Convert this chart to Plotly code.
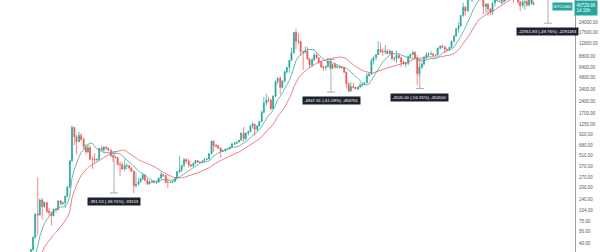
import numpy as np
import pandas as pd
import plotly.graph_objects as go

# ---------------- data (semi-monthly candles, BTCUSD) ----------------
first_open = 5.3
closes = [
    # 2012
    6.5, 5.5, 6.0, 4.9, 4.9, 4.9, 4.9, 5.0, 5.0, 5.1, 5.6, 6.6, 7.6, 9.0, 11.0, 10.5, 11.0, 12.4, 11.8, 11.2, 10.9, 12.4, 13.3, 13.4,
    # 2013
    14.2, 20.0, 24.5, 33.0, 47.0, 92.0, 90.0, 139.0, 115.0, 129.0, 100.0, 97.0, 88.0, 106.0, 105.0, 135.0, 125.0, 128.0, 155.0, 200.0, 430.0, 1130.0, 870.0, 750.0,
    # 2014
    900, 800, 650, 560, 630, 450, 450, 445, 450, 620, 590, 640, 620, 585, 500, 480, 470, 385, 385, 340, 375, 375, 350, 320,
    # 2015
    210, 218, 235, 255, 285, 245, 220, 235, 237, 230, 232, 262, 290, 284, 230, 230, 230, 237, 260, 315, 330, 378, 445, 430,
    # 2016
    385, 370, 400, 435, 415, 415, 430, 450, 455, 530, 760, 670, 660, 625, 570, 575, 605, 608, 640, 700, 710, 745, 780, 960,
    # 2017
    820, 965, 1000, 1190, 1250, 1070, 1180, 1350, 1750, 2300, 2500, 2480, 1950, 2800, 4300, 4700, 3600, 4350, 5650, 6450, 7900, 9900, 17700, 13800,
    # 2018
    13600, 10200, 10000, 10300, 8200, 6900, 8000, 9250, 8500, 7500, 6500, 6400, 6600, 7700, 6300, 7000, 6500, 6600, 6450, 6350, 5600, 4000, 3250, 3700,
    # 2019
    3600, 3450, 3650, 3850, 3950, 4100, 5050, 5300, 7800, 8550, 9300, 10800, 10200, 10100, 10300, 9600, 10300, 8300, 8350, 9150, 8500, 7500, 7100, 7200,
    # 2020
    8800, 9350, 9900, 8550, 5400, 6400, 7100, 8650, 9300, 9450, 9450, 9150, 9200, 11300, 11900, 11650, 10900, 10800, 11500, 13800, 16000, 19700, 21300, 29000,
    # 2021
    36800, 33100, 47900, 45200, 56000, 58900, 63000, 57700, 46400, 37300, 40200, 35000, 31800, 41500, 47000, 47100, 48100, 43800, 61600, 61300, 64000, 57000, 48900, 46300,
    # 2022
    43100, 38500, 42500, 43200, 39300, 45500, 40400, 40729.96,
]
highs = [
    7.0, 6.9, 6.3, 6.2, 5.2, 5.3, 5.0, 5.2, 5.1, 5.2, 5.8, 6.7, 7.8, 9.3, 11.4, 15.4, 11.3, 12.6, 12.9, 12.0, 11.3, 12.6, 13.6, 13.6,
    14.4, 20.5, 25.5, 33.5, 48.0, 95.0, 266.0, 145.0, 147.0, 133.0, 130.0, 110.0, 98.0, 108.0, 110.0, 137.0, 140.0, 132.0, 156.0, 210.0, 440.0, 1200.0, 1160.0, 920.0,
    1000, 960, 850, 700, 700, 680, 490, 535, 460, 625, 670, 660, 655, 630, 600, 520, 500, 480, 425, 415, 460, 400, 385, 360,
    325, 310, 265, 265, 300, 295, 260, 245, 245, 245, 238, 265, 315, 295, 285, 260, 240, 245, 265, 320, 500, 380, 470, 465,
    460, 395, 410, 445, 440, 420, 432, 465, 460, 535, 780, 780, 705, 680, 630, 590, 610, 612, 645, 735, 742, 750, 790, 975,
    1150, 980, 1030, 1200, 1330, 1250, 1210, 1355, 1850, 2760, 2980, 2760, 2600, 2880, 4400, 4800, 4980, 4400, 5850, 6480, 7900, 11400, 17800, 19800,
    17200, 14000, 10300, 11800, 11700, 8500, 8500, 9750, 9900, 8600, 7800, 6800, 6800, 8500, 8100, 7100, 7400, 6800, 6700, 6550, 6500, 5700, 4200, 4200,
    4100, 3700, 3700, 4200, 4000, 4150, 5450, 5600, 8400, 8900, 9400, 13800, 13200, 11100, 12300, 10900, 10900, 10400, 8800, 10500, 9500, 8750, 7900, 7500,
    8900, 9600, 10500, 10300, 9200, 6900, 7450, 8900, 10000, 9900, 10400, 9800, 9450, 11400, 12100, 12450, 12050, 11100, 11700, 13900, 16300, 19900, 23800, 29300,
    42000, 38000, 49700, 58300, 61800, 61200, 64800, 63800, 59500, 46800, 41300, 41300, 36000, 42600, 48100, 50500, 52900, 48500, 62900, 67000, 69000, 66000, 59000, 52000,
    47900, 43500, 45800, 44900, 45400, 48200, 47000, 42900,
]
lows = [
    5.2, 5.4, 5.3, 4.4, 4.7, 4.8, 4.8, 4.9, 4.9, 5.0, 5.1, 5.6, 6.5, 7.6, 8.9, 7.5, 10.0, 11.0, 11.6, 10.6, 10.2, 10.9, 12.3, 13.0,
    13.3, 14.0, 19.0, 24.0, 31.5, 46.0, 50.0, 88.0, 79.0, 110.0, 95.0, 88.0, 66.0, 86.0, 96.0, 102.0, 118.0, 120.0, 110.0, 152.0, 195.0, 420.0, 680.0, 520.0,
    740, 770, 600, 520, 540, 440, 340, 410, 420, 445, 570, 550, 600, 575, 480, 420, 465, 380, 275, 330, 320, 340, 340, 310,
    170, 200, 212, 230, 250, 240, 215, 218, 225, 225, 220, 230, 255, 270, 230, 195, 225, 225, 235, 260, 300, 310, 360, 400,
    355, 360, 365, 395, 405, 405, 410, 425, 445, 450, 525, 555, 635, 600, 470, 565, 570, 600, 605, 635, 680, 700, 735, 775,
    750, 780, 900, 990, 1100, 890, 1020, 1160, 1340, 1750, 2100, 2350, 1850, 1950, 2700, 3950, 2970, 3500, 4150, 5400, 5500, 7900, 9500, 10900,
    12700, 9000, 6000, 9700, 8100, 6400, 6500, 7800, 8300, 7100, 6400, 5800, 5900, 6500, 6000, 6200, 6150, 6200, 6200, 6250, 5500, 3500, 3150, 3200,
    3500, 3400, 3350, 3600, 3700, 3850, 4100, 4950, 5250, 7000, 7800, 9300, 9700, 9000, 9400, 9350, 9550, 7800, 7700, 7300, 8400, 6500, 7000, 6450,
    6850, 8500, 9100, 8400, 3850, 5000, 6200, 6800, 8100, 8800, 9250, 8900, 9050, 9100, 10700, 11100, 9850, 10250, 10400, 11300, 13200, 15900, 17600, 21100,
    28000, 29000, 32300, 44900, 43000, 50500, 56000, 47000, 45000, 30000, 31000, 28800, 29300, 29300, 37400, 43900, 42800, 39600, 43300, 59300, 59500, 53500, 42000, 45500,
    39600, 33000, 36300, 34300, 37200, 37600, 39200, 38600,
]

# price-range measurements drawn on the chart
measure_dates = ["2014-08-22", "2018-08-05", "2020-03-18", "2022-07-19"]
measure_from = [561.71, 8100.24, 7994.68, 46044.0]
measure_to = [170.18, 3152.63, 3489.68, 23132.17]
measure_text = [
    "-391.53 (-69.70%) -39153",
    "-4947.61 (-61.08%) -494761",
    "-4505.00 (-56.35%) -450500",
    "-22911.83 (-49.76%) -2291183",
]

tick_vals = [40, 56, 75, 104, 140, 200, 270, 370, 510, 680, 920, 1250, 1700,
             2400, 3400, 4800, 6400, 8800, 12800, 17600, 24000]
tick_text = [f"{v:.2f}" for v in tick_vals]

symbol = "BTCUSD"
last_price_text = "40729.96"
countdown = "1d 10h"

# ---------------- styling ----------------
UP = "#26a69a"
DOWN = "#ef5350"
MA_FAST_COLOR = "#3fa9a0"
MA_SLOW_COLOR = "#e5636b"
LABEL_BG = "#1e222d"
FONT = "Liberation Sans"

dates = pd.date_range("2012-01-01", periods=len(closes), freq="SMS")
opens = [first_open] + closes[:-1]
s = pd.Series(closes, index=dates)
ma_fast = s.rolling(10).mean()
ma_slow = s.rolling(24).mean()

fig = go.Figure()
fig.add_trace(go.Scatter(x=dates, y=ma_slow, mode="lines",
                         line=dict(color=MA_SLOW_COLOR, width=0.8), hoverinfo="skip"))
fig.add_trace(go.Scatter(x=dates, y=ma_fast, mode="lines",
                         line=dict(color=MA_FAST_COLOR, width=0.8), hoverinfo="skip"))
fig.add_trace(go.Candlestick(
    x=dates, open=opens, high=highs, low=lows, close=closes,
    increasing=dict(line=dict(color=UP, width=0.7), fillcolor=UP),
    decreasing=dict(line=dict(color=DOWN, width=0.7), fillcolor=DOWN),
    whiskerwidth=0,
))

# measure lines
for d, a, b, t in zip(measure_dates, measure_from, measure_to, measure_text):
    fig.add_trace(go.Scatter(x=[d, d], y=[a, b], mode="lines",
                             line=dict(color="#9598a1", width=0.8), hoverinfo="skip"))
    for yv in (a, b):
        fig.add_shape(type="line", xref="x", yref="y", xsizemode="pixel",
                      xanchor=d, x0=-4, x1=4, y0=yv, y1=yv,
                      line=dict(color="#9598a1", width=0.8))
    fig.add_annotation(x=d, y=np.log10(b), xref="x", yref="y", text=t,
                       showarrow=False, yanchor="top", yshift=-4,
                       font=dict(family=FONT, size=4.3, color="white"),
                       bgcolor=LABEL_BG, borderpad=1)

# last price labels (price-scale badges, pinned to the top of the scale)
fig.add_annotation(x=1, xref="paper", xanchor="left", xshift=-1,
                   y=1, yref="paper", yanchor="top",
                   text=f"{last_price_text}<br>{countdown}", showarrow=False, align="left",
                   font=dict(family=FONT, size=4.5, color="white"),
                   bgcolor=UP, borderpad=1.5)
fig.add_annotation(x=1, xref="paper", xanchor="right", xshift=-2,
                   y=1, yref="paper", yanchor="top", yshift=-1.5,
                   text=symbol, showarrow=False,
                   font=dict(family=FONT, size=4.3, color="white"),
                   bgcolor=UP, borderpad=0.8)

fig.update_layout(
    width=600, height=252,
    margin=dict(l=0, r=25, t=0, b=0),
    paper_bgcolor="white", plot_bgcolor="white",
    showlegend=False,
    xaxis=dict(range=["2012-07-24", "2023-01-15"], showgrid=False, zeroline=False,
               showticklabels=False, rangeslider=dict(visible=False), fixedrange=True),
    yaxis=dict(type="log", side="right", range=[np.log10(30.8), np.log10(45300)],
               tickvals=tick_vals, ticktext=tick_text, showgrid=False, zeroline=False,
               showline=True, linecolor="#9aa0a6", linewidth=1, ticks="",
               tickfont=dict(family=FONT, size=4.5, color="#555a66"), ticklabelstandoff=2),
)

fig.write_html("out.html")
